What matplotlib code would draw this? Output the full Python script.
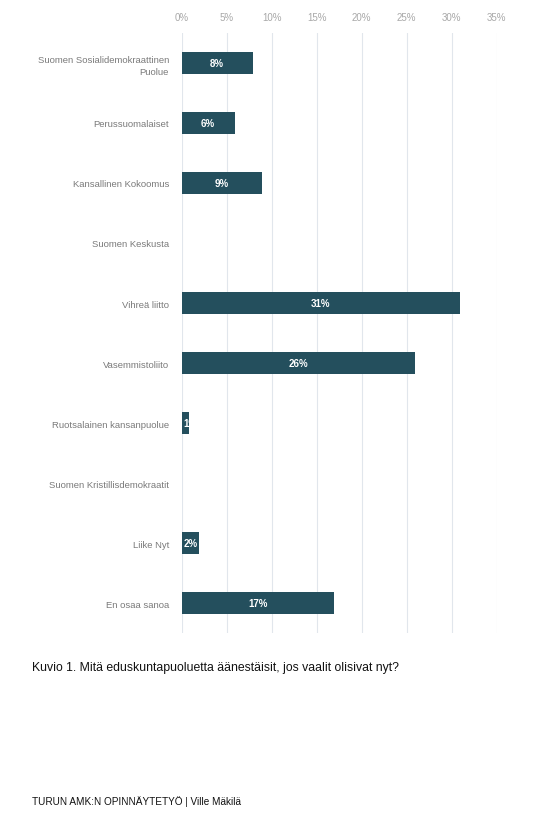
import numpy as np
import matplotlib
matplotlib.use("Agg")
import matplotlib.pyplot as plt

plt.rcParams['font.family'] = ['Liberation Sans', 'DejaVu Sans']

# Puolueet ja osuudet (%)
parties = [
    "Suomen Sosialidemokraattinen\nPuolue",
    "Perussuomalaiset",
    "Kansallinen Kokoomus",
    "Suomen Keskusta",
    "Vihreä liitto",
    "Vasemmistoliito",
    "Ruotsalainen kansanpuolue",
    "Suomen Kristillisdemokraatit",
    "Liike Nyt",
    "En osaa sanoa",
]
shares = [7.9, 5.9, 8.9, 0.0, 30.9, 25.9, 0.85, 0.0, 1.95, 16.9]
ticks = [0, 5, 10, 15, 20, 25, 30, 35]

bar_color = "#244f5d"
grid_color = "#e1e6ec"
label_color = "#7a7a7a"

fig = plt.figure(figsize=(5.52, 8.29), dpi=100)
ax = fig.add_axes([0.329, 0.2352, 0.571, 0.7238])

y = np.arange(len(parties))
bars = ax.barh(y, shares, height=0.38, color=bar_color, zorder=3)

ax.set_ylim(len(parties) - 0.5, -0.5)
ax.set_xlim(0, 35)
ax.set_xticks(ticks)
ax.set_xticklabels([f"{t}%" for t in ticks])
ax.xaxis.tick_top()
ax.tick_params(axis='x', length=0, pad=8, labelsize=7, labelcolor="#a8a8a8")
ax.set_yticks(y)
ax.set_yticklabels(parties, fontsize=6.8, color=label_color)
ax.tick_params(axis='y', length=0, pad=9)
for lbl in ax.get_yticklabels():
    lbl.set_horizontalalignment('right')
    lbl.set_multialignment('right')
    lbl.set_linespacing(1.45)

ax.grid(axis='x', color=grid_color, linewidth=0.8, zorder=0)
for s in ax.spines.values():
    s.set_visible(False)

# arvot palkkien sisään
for bar, v in zip(bars, shares):
    if v <= 0:
        continue
    yc = bar.get_y() + bar.get_height() / 2
    txt = f"{round(v)}%"
    if v < 1.5:
        t = ax.text(0.15, yc, txt, ha='left', va='center', color='white',
                    fontsize=7, fontweight='bold', zorder=4)
    else:
        t = ax.text(v / 2, yc, txt, ha='center', va='center', color='white',
                    fontsize=7, fontweight='bold', zorder=4)
    t.set_clip_path(bar)

fig.text(32 / 552, 1 - 668 / 829, "Kuvio 1. Mitä eduskuntapuoluetta äänestäisit, jos vaalit olisivat nyt?",
         fontsize=8.8, color="#111111", va='center', ha='left')
fig.text(32 / 552, 1 - 802 / 829, "TURUN AMK:N OPINNÄYTETYÖ | Ville Mäkilä",
         fontsize=7.2, color="#111111", va='center', ha='left')

fig.savefig("out.png", dpi=100)
